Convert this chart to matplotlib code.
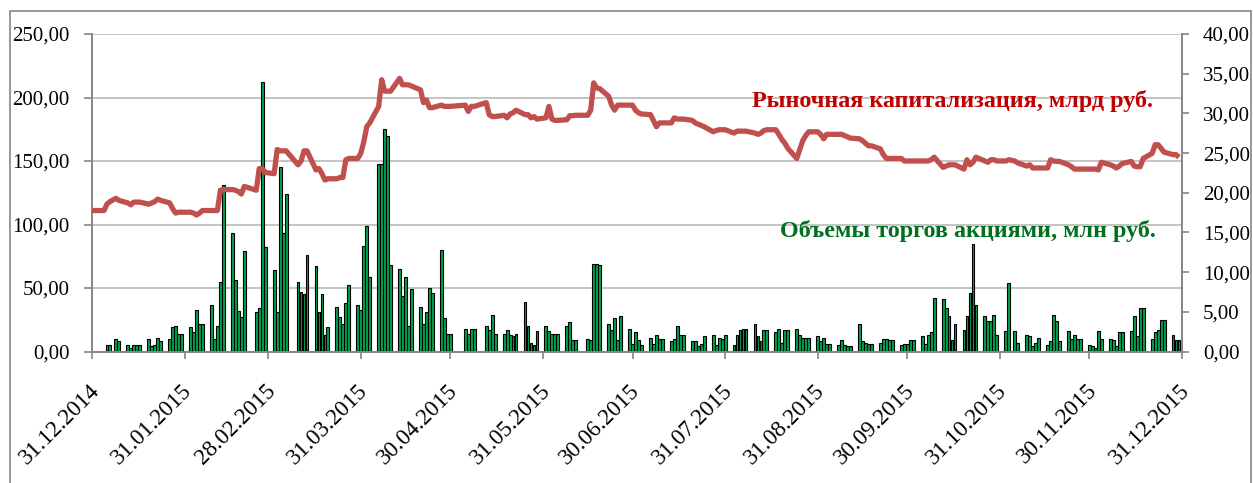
import matplotlib
matplotlib.use("Agg")
import matplotlib.pyplot as plt
import matplotlib.transforms as mtransforms
from matplotlib.patches import Rectangle
from matplotlib.ticker import FuncFormatter, MultipleLocator
from datetime import date, timedelta

plt.rcParams['font.family'] = ['Liberation Serif', 'DejaVu Serif']

# weekly data, Monday..Friday, None = exchange closed
first_monday = date(2015, 1, 5)

# daily trading volume, mln rub (left axis)
volumes = [
    [5, 5, None, 10, 8], [5, 3, 5, 5, 5], [10, 4, 5, 11, 8], [10, 19, 20, 14, 14],
    [19, 15, 33, 22, 22], [37, 10, 20, 55, 131], [93, 56, 32, 27, 79], [None, 31, 34, 212, 82],
    [64, 31, 145, 93, 124], [None, 55, 47, 45, 76], [67, 31, 45, 13, 19], [35, 27, 22, 38, 52],
    [37, 33, 83, 99, 59], [148, 148, 175, 170, 68], [65, 44, 59, 20, 49], [35, 22, 31, 50, 46],
    [80, 26, 14, 14, None], [None, 18, 14, 18, 18], [None, 20, 17, 29, 14], [14, 17, 13, 12, 14],
    [39, 20, 7, 5, 16], [20, 16, 14, 14, 14], [20, 23, 9, 9, None], [10, 9, 69, 69, 68],
    [22, 17, 26, 9, 28], [18, 6, 15, 9, 5], [11, 6, 13, 10, 10], [8, 10, 20, 13, 13],
    [8, 8, 4, 6, 12], [13, 5, 11, 10, 13], [5, 13, 17, 18, 18], [22, 12, 8, 17, 17],
    [15, 18, 7, 17, 17], [18, 13, 11, 11, 11], [12, 8, 11, 6, 6], [5, 9, 5, 4, 4],
    [22, 8, 7, 6, 6], [7, 10, 10, 9, 9], [5, 6, 6, 9, 9], [12, 6, 13, 15, 42],
    [41, 34, 28, 9, 22], [17, 28, 46, 85, 37], [28, 24, 24, 29, 13], [16, 54, None, 16, 7],
    [13, 12, 4, 7, 11], [5, 8, 29, 24, 8], [16, 10, 13, 10, 10], [5, 4, 3, 16, 10],
    [10, 9, 4, 15, 15], [16, 28, 12, 34, 34], [10, 15, 17, 25, 25], [13, 9, 9, None, None],
]

# market capitalization, bln rub (right axis)
holiday_dates = [date(2014, 12, 31), date(2015, 1, 4)]
holiday_cap = [17.76, 17.76]
capitalization = [
    [18.56, 18.88, None, 19.30, 19.04], [18.72, 18.48, 18.82, 18.82, 18.82],
    [18.56, 18.72, 18.88, 19.20, 19.04], [18.72, 18.00, 17.44, 17.55, 17.55],
    [17.55, 17.44, 17.20, 17.44, 17.76], [17.76, 17.76, 17.76, 20.32, 20.40],
    [20.40, 20.32, 20.16, 19.84, 20.80], [None, 20.32, 23.04, 23.04, 22.56],
    [22.40, 25.44, 25.28, 25.28, 25.28], [None, 23.52, 24.00, 25.28, 25.28],
    [22.88, 23.04, 22.40, 21.60, 21.76], [21.76, 21.92, 21.92, 24.16, 24.32],
    [24.32, 24.96, 26.40, 28.32, 28.80], [30.88, 34.24, 32.80, 32.80, 32.80],
    [34.40, 33.60, 33.60, 33.60, 33.44], [32.96, 31.36, 31.68, 30.72, 30.72],
    [31.04, 30.88, 30.88, 30.88, None], [None, 31.04, 30.24, 30.88, 30.88],
    [None, 31.36, 29.84, 29.60, 29.60], [29.76, 29.44, 29.92, 30.08, 30.40],
    [29.84, 29.84, 29.44, 29.60, 29.28], [29.44, 30.88, 29.28, 29.12, 29.12],
    [29.20, 29.71, 29.71, 29.76, None], [29.76, 30.40, 33.84, 33.20, 33.12],
    [32.16, 31.04, 30.40, 31.04, 31.04], [31.04, 31.04, 30.40, 30.08, 29.92],
    [29.84, 29.12, 28.32, 28.80, 28.80], [28.80, 29.44, 29.28, 29.28, 29.28],
    [29.12, 28.80, 28.64, 28.48, 28.32], [27.68, 27.84, 27.94, 27.94, 27.94],
    [27.52, 27.76, 27.76, 27.76, 27.76], [27.52, 27.36, 27.52, 27.84, 27.94],
    [27.94, 27.36, 26.72, 26.24, 25.60], [24.32, 25.44, 26.56, 27.20, 27.68],
    [27.68, 27.36, 26.80, 27.36, 27.36], [27.36, 27.36, 27.20, 27.04, 26.88],
    [26.80, 26.56, 26.24, 25.92, 25.92], [25.52, 24.80, 24.32, 24.32, 24.32],
    [24.32, 24.00, 24.00, 24.00, 24.00], [24.00, 24.00, 24.00, 24.16, 24.48],
    [23.20, 23.36, 23.52, 23.52, 23.52], [22.98, 24.16, 23.52, 23.84, 24.48],
    [24.00, 23.84, 24.16, 24.16, 24.00], [24.00, 24.16, None, 24.00, 23.76],
    [23.36, 23.52, 23.12, 23.12, 23.12], [23.12, 24.16, 24.00, 23.95, 23.95],
    [23.52, 23.28, 22.98, 22.98, 22.98], [22.98, 22.98, 22.98, 22.88, 23.84],
    [23.52, 23.36, 23.12, 23.36, 23.68], [23.95, 23.36, 23.28, 23.28, 24.32],
    [24.96, 26.05, 26.05, 25.60, 25.12], [24.80, 24.80, 24.48, None, None],
]

tick_dates = [date(2014, 12, 31), date(2015, 1, 31), date(2015, 2, 28), date(2015, 3, 31),
              date(2015, 4, 30), date(2015, 5, 31), date(2015, 6, 30), date(2015, 7, 31),
              date(2015, 8, 31), date(2015, 9, 30), date(2015, 10, 31), date(2015, 11, 30),
              date(2015, 12, 31)]

cap_label = 'Рыночная капитализация, млрд руб.'
vol_label = 'Объемы торгов акциями, млн руб.'

# flatten the weeks into trading days
days, vol, cap = [], [], []
for w, (wv, wc) in enumerate(zip(volumes, capitalization)):
    for k in range(5):
        if wc[k] is None:
            continue
        days.append(first_monday + timedelta(days=7 * w + k))
        vol.append(wv[k])
        cap.append(wc[k])

W, H = 1253, 483
fig = plt.figure(figsize=(W / 100, H / 100), dpi=100)
ax = fig.add_axes([92 / W, 1 - 351.5 / H, (1182 - 92) / W, (351.5 - 34) / H])
ax2 = ax.twinx()

grey = '#868686'
ax.set_axisbelow(True)
ax.yaxis.grid(True, color='#bfbfbf', lw=1.3)
ax.bar(days, vol, width=0.95, color='#00a54f', edgecolor='black', lw=0.8, zorder=2)
ax2.plot(holiday_dates + days, holiday_cap + cap, color='#c0504d', lw=3.8,
         solid_joinstyle='round', solid_capstyle='butt', zorder=3)

ax.set_xlim(date(2014, 12, 31), date(2015, 12, 31))
ax.set_ylim(0, 250)
ax2.set_ylim(0, 40)
ax.yaxis.set_major_locator(MultipleLocator(50))
ax2.yaxis.set_major_locator(MultipleLocator(5))
comma = FuncFormatter(lambda v, p: f'{v:.2f}'.replace('.', ','))
ax.yaxis.set_major_formatter(comma)
ax2.yaxis.set_major_formatter(comma)

ax.set_xticks(tick_dates)
ax.set_xticklabels([d.strftime('%d.%m.%Y') for d in tick_dates])

for a in (ax, ax2):
    a.spines['top'].set_visible(False)
    for s in ('left', 'right', 'bottom'):
        a.spines[s].set_color(grey)
        a.spines[s].set_linewidth(1.2)
    a.tick_params(colors=grey, labelcolor='black', labelsize=15, width=1.2)
ax.tick_params(axis='y', length=6, pad=10)
ax2.tick_params(axis='y', length=5, pad=10)
ax.tick_params(axis='x', length=5, pad=21, labelsize=16.7)

shift = mtransforms.ScaledTranslation(4 / 100, 0, fig.dpi_scale_trans)
for lbl in ax.get_xticklabels():
    lbl.set_rotation(45)
    lbl.set_ha('right')
    lbl.set_va('center')
    lbl.set_rotation_mode('anchor')
    lbl.set_transform(lbl.get_transform() + shift)

fig.text(752 / W, 1 - 101 / H, cap_label, color='#c00000', fontsize=17.4,
         fontweight='bold', ha='left', va='center')
fig.text(780 / W, 1 - 231 / H, vol_label, color='#007020', fontsize=17.4,
         fontweight='bold', ha='left', va='center')

# chart area frame
fig.patches.append(Rectangle((10 / W, -0.1), (1251 - 10) / W, 1.1 - 10.5 / H,
                             transform=fig.transFigure, fill=False,
                             edgecolor=grey, lw=1.2))

fig.savefig('out.png', dpi=100)
